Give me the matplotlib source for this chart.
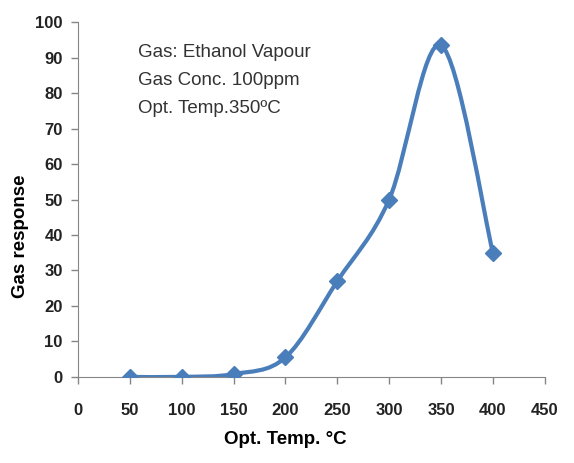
import numpy as np
import matplotlib.pyplot as plt
from matplotlib.path import Path
from matplotlib.patches import PathPatch

temps = [50, 100, 150, 200, 250, 300, 350, 400]
response = [0, 0, 0.8, 5.5, 27, 50, 93.5, 35]
xticks = [0, 50, 100, 150, 200, 250, 300, 350, 400, 450]
yticks = [0, 10, 20, 30, 40, 50, 60, 70, 80, 90, 100]
info = ["Gas: Ethanol Vapour", "Gas Conc. 100ppm", "Opt. Temp.350\u00baC"]

blue = "#4a7ebb"
plt.rcParams['font.family'] = ['Liberation Sans', 'DejaVu Sans']


def smooth_path(x, y):
    # catmull-rom style bezier through the points (like excel "smoothed line")
    pts = np.column_stack([x, y]).astype(float)
    n = len(pts)
    verts = [pts[0]]
    codes = [Path.MOVETO]
    for i in range(n - 1):
        p0 = pts[i - 1] if i > 0 else pts[i]
        p1 = pts[i]
        p2 = pts[i + 1]
        p3 = pts[i + 2] if i + 2 < n else pts[i + 1]
        c1 = p1 + (p2 - p0) / 6.0
        c2 = p2 - (p3 - p1) / 6.0
        verts += [c1, c2, p2]
        codes += [Path.CURVE4] * 3
    return Path(verts, codes)


fig = plt.figure(figsize=(5.74, 4.63), dpi=100)
ax = fig.add_axes([0.136, 0.186, 0.813, 0.766])

ax.add_patch(PathPatch(smooth_path(temps, response), facecolor="none",
                       edgecolor=blue, lw=3, capstyle="round", zorder=2))
ax.plot(temps, response, linestyle="none", marker="D", markersize=8,
        color=blue, zorder=3)

ax.set_xlim(0, 450)
ax.set_ylim(0, 100)
ax.set_xticks(xticks)
ax.set_yticks(yticks)
ax.tick_params(axis="both", labelsize=12, length=5, color="#868686", width=1)
for lab in ax.get_xticklabels() + ax.get_yticklabels():
    lab.set_fontweight("bold")
    lab.set_color("#222222")
ax.tick_params(axis="x", pad=14)
ax.tick_params(axis="y", pad=6)

for side in ["top", "right"]:
    ax.spines[side].set_visible(False)
for side in ["left", "bottom"]:
    ax.spines[side].set_color("#868686")

ax.set_xlabel("Opt. Temp. \u00b0C", fontsize=13.5, fontweight="bold")
ax.xaxis.set_label_coords(0.445, -0.177)
ax.set_ylabel("Gas response", fontsize=13.5, fontweight="bold")
ax.yaxis.set_label_coords(-0.124, 0.397)
ax.yaxis.label.set_va("center")
ax.xaxis.label.set_va("center")

for i, t in enumerate(info):
    ax.text(0.128, 0.914 - i * 0.078, t, transform=ax.transAxes, fontsize=13.5,
            color="#333333", va="center", ha="left")

fig.savefig("out.png", dpi=100)
